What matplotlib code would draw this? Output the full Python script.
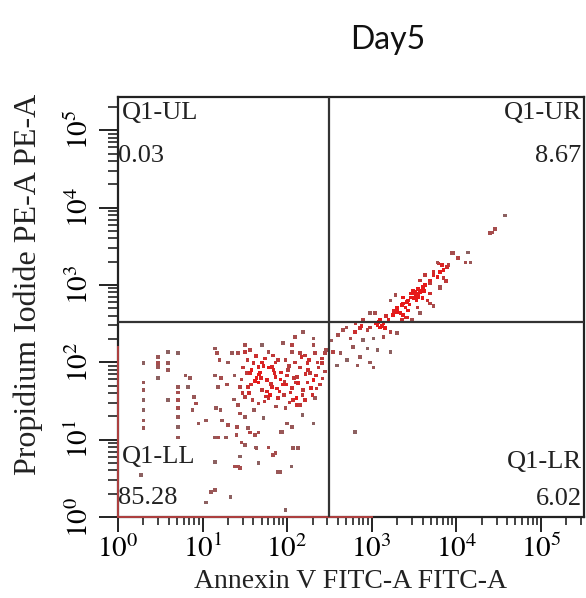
import numpy as np
import matplotlib
matplotlib.use('Agg')
import matplotlib.pyplot as plt
from matplotlib.ticker import LogLocator, NullFormatter, FixedLocator

plt.rcParams['mathtext.fontset'] = 'stix'

# Event positions, in log10 units (decades)
# sparse events on the left of the main population
left_x = [0.30, 0.30, 0.30, 0.30, 0.30, 0.30, 0.30, 0.27,
          0.47, 0.47, 0.47, 0.47, 0.59, 0.59, 0.59, 0.59,
          0.71, 0.71, 0.71, 0.71, 0.71, 0.71, 0.71, 0.71,
          0.80, 0.85, 0.83, 0.90, 0.92, 0.88, 0.95, 1.04,
          1.15, 1.17, 1.20, 1.15, 1.22, 1.18, 1.16, 1.21, 1.23, 1.18, 1.15, 1.15, 1.10, 1.04]
left_y = [1.99, 1.74, 1.64, 1.51, 1.38, 1.25, 1.15, 0.54,
          2.07, 1.99, 1.94, 1.80, 2.13, 1.99, 1.90, 1.51,
          2.12, 1.68, 1.61, 1.51, 1.41, 1.29, 1.16, 1.03,
          1.83, 1.80, 1.68, 1.55, 1.47, 1.38, 1.21, 1.25,
          2.18, 2.12, 2.03, 1.83, 1.80, 1.68, 1.41, 1.38, 1.25, 1.03, 0.71, 0.35, 0.32, 0.19]

# main double-negative population
main_x = [2.19, 2.09, 2.31, 2.31, 1.70, 1.95, 1.50, 1.35, 1.42, 1.78, 2.06, 2.15, 2.21, 2.33, 2.45,
          1.30, 1.53, 1.60, 1.74, 1.86, 1.98, 2.09, 2.24, 2.36, 2.41, 1.48, 1.66, 1.82, 2.01, 2.25,
          2.27, 1.38, 1.64, 1.66, 1.76, 1.86, 2.00, 2.12, 2.31, 1.29, 1.44, 1.54, 1.70, 1.82, 1.95,
          2.06, 2.19, 2.18, 1.50, 1.59, 1.78, 1.89, 2.07, 2.21, 2.33, 1.42, 1.66, 1.98, 2.12, 1.44,
          1.50, 1.72, 2.18, 2.00, 2.06, 1.30, 1.41, 1.54, 1.94, 2.31,
          1.50, 1.56, 1.63, 1.70, 1.78, 1.85, 1.92, 1.99, 2.04, 2.11, 2.15, 2.24, 2.28, 2.34, 2.37,
          2.41, 2.46, 1.80, 1.73, 1.61, 1.55, 1.96, 1.89, 2.06, 2.15, 2.30, 2.39, 2.45, 1.68, 1.56,
          1.58, 1.62, 1.67, 1.72, 1.76, 1.81, 1.84, 1.88, 1.93, 1.97, 2.02, 2.08, 2.13, 2.17, 2.22,
          1.46, 1.52, 1.57, 1.69, 1.75, 1.83, 1.91, 2.03, 2.10, 2.26, 1.37, 1.47, 1.87, 2.35, 2.42]
main_y = [2.39, 2.33, 2.31, 2.22, 2.22, 2.25, 2.13, 2.12, 2.12, 2.13, 2.13, 2.12, 2.09, 2.12, 2.12,
          2.00, 2.03, 1.99, 2.05, 2.00, 2.03, 2.00, 1.99, 2.00, 1.99, 1.93, 1.94, 1.94, 1.90, 1.90,
          1.86, 1.83, 1.80, 1.74, 1.77, 1.81, 1.83, 1.81, 1.77, 1.71, 1.68, 1.68, 1.64, 1.68, 1.71,
          1.67, 1.64, 1.58, 1.55, 1.51, 1.54, 1.54, 1.51, 1.51, 1.54, 1.45, 1.47, 1.41, 1.45, 1.34,
          1.29, 1.28, 1.32, 1.21, 1.16, 1.19, 1.16, 1.15, 1.10, 1.21,
          2.22, 2.16, 2.08, 2.00, 1.93, 1.86, 1.78, 1.71, 1.61, 1.54, 1.45, 1.74, 1.67, 1.83, 1.93,
          2.05, 2.16, 1.58, 1.49, 1.38, 1.60, 1.58, 2.03, 2.22, 1.93, 1.58, 1.71, 1.88, 1.87, 1.86,
          1.90, 1.76, 1.84, 1.95, 1.62, 1.72, 1.90, 1.66, 1.87, 1.75, 1.95, 1.80, 1.73, 2.07, 1.85,
          1.78, 1.86, 1.71, 1.80, 1.56, 2.09, 1.62, 1.48, 1.74, 2.03, 1.52, 1.60, 1.43, 1.66, 1.79]

# low PI tail
low_x = [0.71, 1.15, 1.28, 1.40, 1.56, 1.62, 1.66, 1.93, 1.46, 1.50, 1.63, 1.78, 1.83, 2.13,
         1.44, 1.38, 1.44, 1.66, 1.92, 2.05, 1.33, 1.98, 1.64, 1.86, 2.07, 1.89, 1.42]
low_y = [1.03, 1.03, 1.03, 1.06, 1.09, 1.06, 1.09, 1.10, 0.96, 0.93, 0.90, 0.90, 0.80, 0.89,
         0.78, 0.65, 0.63, 0.70, 0.58, 0.65, 0.26, 0.09, 0.89, 0.83, 0.89, 0.58, 0.65]

# Annexin-positive diagonal band
band_x = [2.66, 2.80, 2.86, 2.98, 3.07, 3.10, 3.16, 3.22, 3.30, 2.75, 2.90, 3.02, 3.14, 2.78,
          2.95, 3.07, 3.22, 2.63, 2.86, 2.54, 2.71, 2.98, 2.59, 2.83, 3.02,
          2.98, 3.04, 2.90, 3.08, 3.14, 3.20, 3.25, 3.30, 3.36, 3.42, 3.37, 3.46, 3.51, 3.28, 3.34,
          3.40, 3.43,
          3.69, 3.78, 3.85, 3.91, 3.95, 3.79, 3.61, 3.46, 3.69, 3.37, 3.54, 3.42, 3.30, 3.22, 3.28,
          3.49, 3.57, 3.63, 3.73, 3.81, 3.60, 3.66, 3.36, 3.48,
          4.58, 4.40, 4.46, 4.43, 4.14, 4.17, 4.02, 3.96, 4.11, 3.78, 3.83, 3.89, 3.81, 3.73, 3.85,
          3.69, 3.63, 3.81, 3.57, 3.49, 3.55, 3.69, 3.73, 3.43, 3.40, 3.57, 3.37,
          3.52, 3.55, 3.50, 3.58, 3.53, 3.45, 3.62, 3.10, 3.05, 3.12, 2.95, 2.70, 2.60, 2.52,
          2.80, 3.55, 3.88, 3.17, 3.26, 2.81, 2.88]
band_y = [2.42, 2.39, 2.44, 2.45, 2.48, 2.45, 2.44, 2.39, 2.38, 2.31, 2.29, 2.31, 2.33, 2.20,
          2.18, 2.16, 2.13, 2.12, 2.07, 2.13, 2.03, 2.00, 1.96, 1.96, 1.93,
          2.64, 2.64, 2.55, 2.52, 2.51, 2.55, 2.61, 2.70, 2.74, 2.78, 2.84, 2.89, 2.91, 2.67, 2.64,
          2.58, 2.67,
          3.02, 3.10, 3.19, 3.26, 3.41, 3.28, 2.97, 2.84, 2.89, 2.76, 2.71, 2.58, 2.65, 2.80, 2.87,
          2.93, 3.06, 3.13, 3.17, 2.97, 2.83, 2.80, 2.55, 2.55,
          3.90, 3.67, 3.72, 3.68, 3.42, 3.29, 3.35, 3.41, 3.29, 3.29, 3.26, 3.23, 3.17, 3.13, 3.09,
          3.06, 3.00, 2.96, 2.93, 2.89, 2.84, 2.76, 2.73, 2.80, 2.71, 2.64, 2.61,
          2.86, 2.88, 2.83, 2.90, 2.80, 2.75, 2.92, 2.55, 2.50, 2.47, 2.42, 2.45, 2.35, 2.28,
          1.10, 2.95, 3.05, 2.60, 2.66, 2.50, 2.47]

# events piled on the axes (off-scale low)
edge_left_y = [0.0, 2.2]
edge_bottom_x = [0.0, 3.0]

gate_x = 2.5
gate_y = 2.52
quad_names = ['Q1-UL', 'Q1-UR', 'Q1-LL', 'Q1-LR']
quad_pcts = ['0.03', '8.67', '85.28', '6.02']

xlog = np.array(left_x + main_x + low_x + band_x)
ylog = np.array(left_y + main_y + low_y + band_y)

fig = plt.figure(figsize=(5.86, 5.98), dpi=100)
ax = fig.add_axes([0.2014, 0.1355, 0.795, 0.7023])

# colour by local density: sparse events greyish, dense events red
d = np.hypot(xlog[:, None] - xlog[None, :], ylog[:, None] - ylog[None, :])
dens = (d < 0.12).sum(axis=1)
t = np.clip((dens - 1) / 7.0, 0, 1)
c0 = np.array([0.55, 0.38, 0.38])
c1 = np.array([0.90, 0.10, 0.10])
cols = c0[None, :] * (1 - t[:, None]) + c1[None, :] * t[:, None]

ax.scatter(10 ** xlog, 10 ** ylog, s=6.5, marker='s', c=cols, linewidths=0, zorder=3)

ax.plot([1, 1], 10 ** np.array(edge_left_y), color='#b04040', lw=1.4, zorder=4, clip_on=False)
ax.plot(10 ** np.array(edge_bottom_x), [1, 1], color='#b04040', lw=1.4, zorder=4, clip_on=False)

ax.axvline(10 ** gate_x, color='#333333', lw=1.6, zorder=5)
ax.axhline(10 ** gate_y, color='#333333', lw=1.6, zorder=5)

ax.set_xscale('log')
ax.set_yscale('log')
ax.set_xlim(1, 10 ** 5.51)
ax.set_ylim(1, 10 ** 5.43)

for s in ax.spines.values():
    s.set_linewidth(1.6)
    s.set_color('#222222')

decades = [0, 1, 2, 3, 4, 5]
ax.xaxis.set_major_locator(FixedLocator([10 ** k for k in decades]))
ax.yaxis.set_major_locator(FixedLocator([10 ** k for k in decades]))
ax.set_xticklabels([r'$10^{%d}$' % k for k in decades])
ax.set_yticklabels([r'$10^{%d}$' % k for k in decades], rotation=90, va='center')
ax.xaxis.set_minor_locator(LogLocator(base=10, subs=np.arange(2, 10), numticks=20))
ax.yaxis.set_minor_locator(LogLocator(base=10, subs=np.arange(2, 10), numticks=20))
ax.xaxis.set_minor_formatter(NullFormatter())
ax.yaxis.set_minor_formatter(NullFormatter())

ax.tick_params(axis='x', which='major', direction='out', length=11, width=1.4, labelsize=21, pad=2, color='#222222')
ax.tick_params(axis='x', which='minor', direction='out', length=6, width=1.2, color='#222222')
ax.tick_params(axis='y', which='major', direction='out', length=14, width=1.4, labelsize=21, pad=3, color='#222222')
ax.tick_params(axis='y', which='minor', direction='out', length=7, width=1.2, color='#222222')

ax.set_xlabel('Annexin V FITC-A FITC-A', family='Liberation Serif', fontsize=20, color='#222222')
ax.set_ylabel('Propidium Iodide PE-A PE-A', family='Liberation Serif', fontsize=23, color='#222222')
ax.xaxis.set_label_coords(0.50, -0.125)
ax.yaxis.set_label_coords(-0.16, 0.555)

txt = dict(family='Liberation Serif', fontsize=19, color='#222222', transform=ax.transAxes, zorder=6)
ax.text(0.008, 0.988, quad_names[0], ha='left', va='top', **txt)
ax.text(0.0, 0.885, quad_pcts[0], ha='left', va='top', **txt)
ax.text(0.995, 0.988, quad_names[1], ha='right', va='top', **txt)
ax.text(0.995, 0.885, quad_pcts[1], ha='right', va='top', **txt)
ax.text(0.008, 0.168, quad_names[2], ha='left', va='top', **txt)
ax.text(0.0, 0.072, quad_pcts[2], ha='left', va='top', **txt)
ax.text(0.995, 0.158, quad_names[3], ha='right', va='top', **txt)
ax.text(0.995, 0.068, quad_pcts[3], ha='right', va='top', **txt)

fig.text(0.662, 0.933, 'Day5', family='Lato', fontsize=23, ha='center', va='center', color='#111111')

fig.savefig('out.png', dpi=100)
